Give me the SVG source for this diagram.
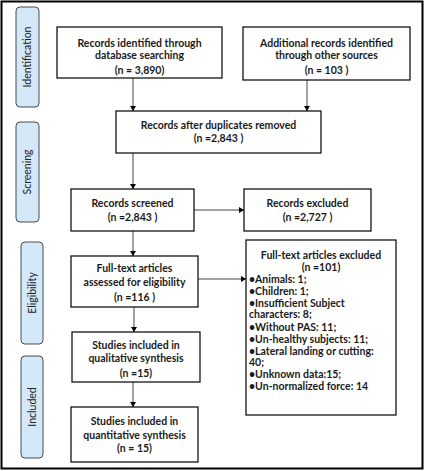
<svg xmlns="http://www.w3.org/2000/svg" width="425" height="471" viewBox="0 0 425 471">
<style>
.box{fill:#fff;stroke:#000;stroke-width:1.2}
.side{fill:#d3e8f8;stroke:#4a4a4a;stroke-width:1}
.t{font-family:Lato,"Liberation Sans",sans-serif;font-weight:700;font-size:10.5px;fill:#1a1a1a;text-anchor:middle}
.l{font-family:Lato,"Liberation Sans",sans-serif;font-weight:700;font-size:10.5px;fill:#1a1a1a}
.s{font-family:Lato,"Liberation Sans",sans-serif;font-size:10.5px;fill:#222;text-anchor:middle}
.c{stroke:#444;stroke-width:1;fill:none;marker-end:url(#ah)}
</style>
<defs>
<marker id="ah" markerUnits="userSpaceOnUse" markerWidth="6" markerHeight="6" refX="5" refY="3" orient="auto">
<path d="M0,0 L5,3 L0,6 Z" fill="#000"/>
</marker>
</defs>
<rect x="1.5" y="1.5" width="421" height="467" fill="#fff" stroke="#000" stroke-width="2"/>
<g id="side-identification"><rect class="side" x="16" y="7" width="23" height="100" rx="4"/><text class="s" transform="translate(31,57) rotate(-90)">Identification</text></g>
<g id="side-screening"><rect class="side" x="16" y="122" width="23" height="100" rx="4"/><text class="s" transform="translate(31,172) rotate(-90)">Screening</text></g>
<g id="side-eligibility"><rect class="side" x="21" y="242" width="22" height="102" rx="4"/><text class="s" transform="translate(36,293) rotate(-90)">Eligibility</text></g>
<g id="side-included"><rect class="side" x="21" y="356" width="22" height="102" rx="4"/><text class="s" transform="translate(36,407) rotate(-90)">Included</text></g>
<g id="connectors">
<line class="c" x1="133" y1="78" x2="133" y2="111"/>
<line class="c" x1="307" y1="80" x2="307" y2="111"/>
<line class="c" x1="133" y1="153" x2="133" y2="189"/>
<line class="c" x1="194" y1="210" x2="244" y2="210"/>
<line class="c" x1="133" y1="231" x2="133" y2="256"/>
<line class="c" x1="198" y1="279" x2="246" y2="279"/>
<line class="c" x1="134" y1="307" x2="134" y2="332"/>
<line class="c" x1="133" y1="382" x2="133" y2="407"/>
</g>
<g id="n1"><rect class="box" x="57" y="27" width="165" height="51"/>
<text class="t" x="139.5" y="46.5">Records identified through</text>
<text class="t" x="139.5" y="59">database searching</text>
<text class="t" x="139.5" y="73.5">(n = 3,890)</text></g>
<g id="n2"><rect class="box" x="243" y="27" width="167" height="53"/>
<text class="t" x="326.5" y="46.5">Additional records identified</text>
<text class="t" x="326.5" y="59">through other sources</text>
<text class="t" x="326.5" y="74">(n = 103 )</text></g>
<g id="n3"><rect class="box" x="116" y="111" width="205" height="42"/>
<text class="t" x="218.5" y="129">Records after duplicates removed</text>
<text class="t" x="218.5" y="142">(n =2,843 )</text></g>
<g id="n4"><rect class="box" x="71" y="189" width="123" height="42"/>
<text class="t" x="132.5" y="207">Records screened</text>
<text class="t" x="132.5" y="221">(n =2,843 )</text></g>
<g id="n5"><rect class="box" x="244" y="189" width="127" height="42"/>
<text class="t" x="307.5" y="207">Records excluded</text>
<text class="t" x="307.5" y="221">(n =2,727 )</text></g>
<g id="n6"><rect class="box" x="71" y="256" width="127" height="51"/>
<text class="t" x="134.5" y="272">Full-text articles</text>
<text class="t" x="134.5" y="286">assessed for eligibility</text>
<text class="t" x="134.5" y="301">(n =116 )</text></g>
<g id="n7"><rect class="box" x="246" y="240" width="150" height="175"/>
<text class="t" x="321" y="259">Full-text articles excluded</text>
<text class="t" x="321" y="271">(n =101)</text>
<text class="l" x="249" y="283">•Animals: 1;</text>
<text class="l" x="249" y="295">•Children: 1;</text>
<text class="l" x="249" y="307">•Insufficient Subject</text>
<text class="l" x="249" y="318">characters: 8;</text>
<text class="l" x="249" y="331">•Without PAS: 11;</text>
<text class="l" x="249" y="343">•Un-healthy subjects: 11;</text>
<text class="l" x="249" y="355">•Lateral landing or cutting:</text>
<text class="l" x="249" y="366">40;</text>
<text class="l" x="249" y="378">•Unknown data:15;</text>
<text class="l" x="249" y="390">•Un-normalized force: 14</text></g>
<g id="n8"><rect class="box" x="72" y="332" width="128" height="50"/>
<text class="t" x="136" y="349">Studies included in</text>
<text class="t" x="136" y="362">qualitative synthesis</text>
<text class="t" x="136" y="377">(n =15)</text></g>
<g id="n9"><rect class="box" x="71" y="407" width="127" height="55"/>
<text class="t" x="134.5" y="425">Studies included in</text>
<text class="t" x="134.5" y="439">quantitative synthesis</text>
<text class="t" x="134.5" y="452">(n = 15)</text></g>
</svg>
